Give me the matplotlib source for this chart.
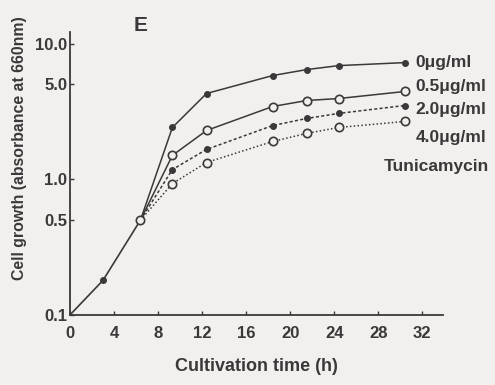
import matplotlib.pyplot as plt

# shared early growth (all cultures identical before tunicamycin)
early_time = [0, 3, 6.4]
early_growth = [0.1, 0.18, 0.5]

late_time = [6.4, 9.3, 12.4, 18.4, 21.5, 24.4, 30.4]
growth_0 = [0.5, 2.41, 4.29, 5.82, 6.44, 6.89, 7.25]
growth_05 = [0.5, 1.50, 2.29, 3.44, 3.81, 3.94, 4.44]
growth_20 = [0.5, 1.18, 1.66, 2.49, 2.81, 3.06, 3.50]
growth_40 = [0.5, 0.93, 1.33, 1.90, 2.18, 2.41, 2.67]

labels = ["0μg/ml", "0.5μg/ml", "2.0μg/ml", "4.0μg/ml"]
x_ticks = [0, 4, 8, 12, 16, 20, 24, 28, 32]
y_ticks = [0.1, 0.5, 1.0, 5.0, 10.0]
y_tick_labels = ["0.1", "0.5", "1.0", "5.0", "10.0"]

plt.rcParams["font.family"] = ["Liberation Sans", "DejaVu Sans"]
ink = "#3a3838"
bg = "#f1f0ee"

fig = plt.figure(figsize=(4.95, 3.85), dpi=100, facecolor=bg)
ax = fig.add_axes([0.1414, 0.182, 0.754, 0.735], facecolor=bg)

ax.plot(early_time, early_growth, color=ink, lw=1.2)
ax.plot(early_time[1], early_growth[1], "o", color=ink, ms=4)

styles = [
    (growth_0, "-", True),
    (growth_05, "-", False),
    (growth_20, (0, (2, 1.5)), True),
    (growth_40, (0, (1, 1.5)), False),
]
for vals, ls, filled in styles:
    ax.plot(late_time, vals, color=ink, lw=1.1, ls=ls)
    if filled:
        ax.plot(late_time[1:], vals[1:], "o", color=ink, ms=4, ls="none")
    else:
        ax.plot(late_time[1:], vals[1:], "o", mfc=bg, mec=ink, mew=1.2,
                ms=6, ls="none")
ax.plot(late_time[0], growth_0[0], "o", mfc=bg, mec=ink, mew=1.2, ms=6)

# series labels at the right
label_y = [7.25, 4.83, 3.27, 2.04]
for lab, yv in zip(labels, label_y):
    ax.text(31.4, yv, lab, color=ink, fontsize=12.5, fontweight="bold",
            va="center", ha="left", clip_on=False)
ax.text(28.5, 1.25, "Tunicamycin", color=ink, fontsize=12.5,
        fontweight="bold", va="center", ha="left", clip_on=False)

ax.set_yscale("log")
ax.set_xlim(0, 33.9)
ax.set_ylim(0.1, 12.2)
ax.set_xticks(x_ticks)
ax.set_xticklabels([str(t) for t in x_ticks])
ax.set_yticks(y_ticks)
ax.set_yticklabels(y_tick_labels)
ax.yaxis.set_minor_locator(plt.NullLocator())

for side in ["top", "right"]:
    ax.spines[side].set_visible(False)
for side in ["left", "bottom"]:
    ax.spines[side].set_color(ink)
    ax.spines[side].set_linewidth(1.3)
ax.tick_params(axis="both", colors=ink, labelsize=12, direction="in",
               length=3, width=1)
ax.tick_params(axis="x", pad=8)
ax.tick_params(axis="y", pad=2)
for lbl in ax.get_xticklabels() + ax.get_yticklabels():
    lbl.set_fontweight("bold")

ax.set_xlabel("Cultivation time (h)", color=ink, fontsize=13,
              fontweight="bold", labelpad=12)
ax.set_ylabel("Cell growth (absorbance at 660nm)", color=ink, fontsize=11.4,
              fontweight="bold")
ax.yaxis.set_label_coords(-0.115, 0.59)
fig.text(0.283, 0.935, "E", color=ink, fontsize=15, fontweight="bold",
         ha="center", va="center")

fig.savefig("out.png", dpi=100, facecolor=bg)
